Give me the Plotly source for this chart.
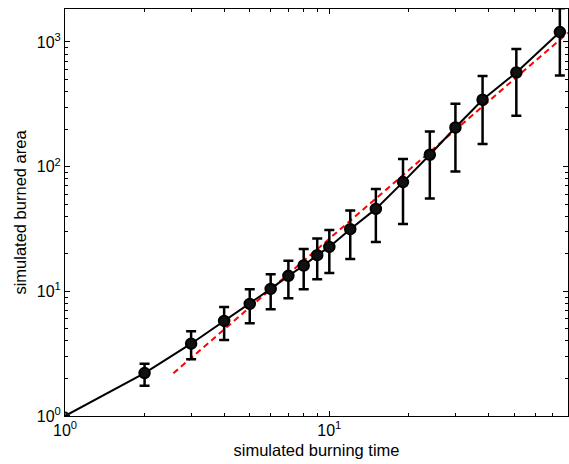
import plotly.graph_objects as go

# data
burn_time = [1, 2, 3, 4, 5, 6, 7, 8, 9, 10, 12, 15, 19, 24, 30, 38, 51, 74.5]
burn_area = [1, 2.21, 3.80, 5.79, 7.92, 10.45, 13.3, 16.1, 19.5, 22.7, 31.5, 45.8, 75.1, 124.4, 206, 344, 569, 1200]
err_plus = [0, 0.42, 0.98, 1.71, 2.48, 3.25, 4.3, 5.7, 7.0, 8.3, 13.0, 20.2, 40, 67, 113, 188, 308, 662]
err_minus = [0, 0.46, 0.95, 1.72, 2.37, 3.27, 4.5, 5.7, 7.0, 8.7, 13.3, 21.0, 40.5, 69, 114.6, 192, 313, 662]
fit_x = [2.57, 80]
fit_y = [2.2, 1185]

x_ticks = [1, 10]
x_ticktext = ["10<sup>0</sup>", "10<sup>1</sup>"]
y_ticks = [1, 10, 100, 1000]
y_ticktext = ["10<sup>0</sup>", "10<sup>1</sup>", "10<sup>2</sup>", "10<sup>3</sup>"]

minor_vals = [m * 10 ** e for e in range(0, 4) for m in range(2, 10)]

font = "Liberation Sans, Arial, sans-serif"

fig = go.Figure()
fig.add_trace(go.Scatter(
    x=fit_x, y=fit_y, mode="lines",
    line=dict(color="#ff0000", width=2, dash="6px,4px"),
    showlegend=False,
))
sizes = [7] + [10.5] * (len(burn_time) - 1)
symbols = ["circle-open"] + ["circle"] * (len(burn_time) - 1)
fig.add_trace(go.Scatter(
    x=burn_time, y=burn_area, mode="lines+markers",
    line=dict(color="black", width=2),
    marker=dict(size=sizes, symbol=symbols, color="#111111", opacity=1,
                line=dict(color="black", width=2)),
    error_y=dict(type="data", symmetric=False, array=err_plus, arrayminus=err_minus,
                 color="black", thickness=2.5, width=5),
    showlegend=False,
))

axis_common = dict(
    type="log", showgrid=False, zeroline=False, automargin=False,
    showline=True, linecolor="black", linewidth=1, mirror="ticks",
    ticks="inside", ticklen=5, tickcolor="black", tickwidth=1,
    tickfont=dict(family=font, size=16, color="black"),
    minor=dict(ticks="inside", ticklen=3, tickcolor="black", tickwidth=1,
               tickmode="array", tickvals=minor_vals, showgrid=False),
)

fig.update_xaxes(
    **axis_common,
    range=[0, 1.903],
    tickmode="array", tickvals=x_ticks, ticktext=x_ticktext,
    title=dict(text="simulated burning time", font=dict(family=font, size=16.5, color="black"), standoff=6),
)
fig.update_yaxes(
    **axis_common,
    range=[0, 3.264],
    tickmode="array", tickvals=y_ticks, ticktext=y_ticktext,
    title=dict(text="simulated burned area", font=dict(family=font, size=16.5, color="black"), standoff=5),
)

fig.update_layout(
    width=569, height=464,
    margin=dict(l=65, r=1, t=9, b=48),
    plot_bgcolor="white", paper_bgcolor="white",
    font=dict(family=font, color="black"),
)

fig.write_html("out.html", config={"displayModeBar": False},
               post_script="document.body.style.margin='0';document.body.style.overflow='hidden';")
